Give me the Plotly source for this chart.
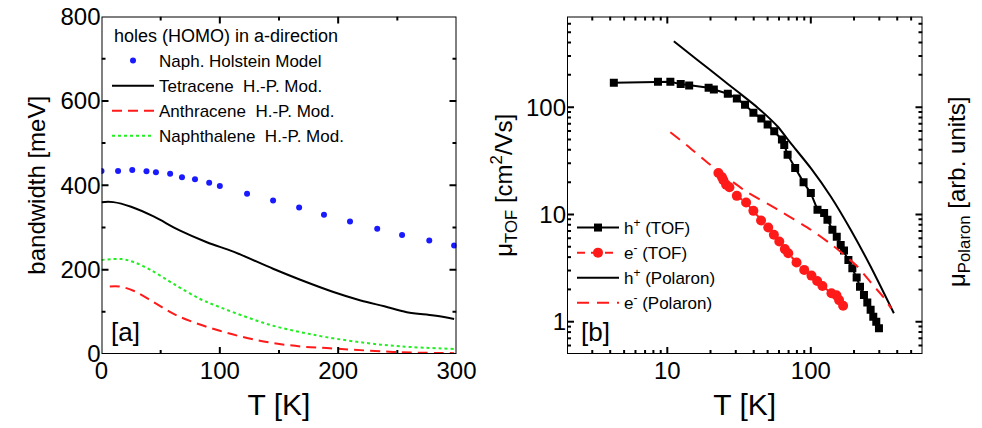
import math
import plotly.graph_objects as go

# ---- panel [a]: bandwidth vs temperature ----
T_holstein = [0, 14, 26, 38, 46, 58, 68, 79, 91, 100, 123, 145, 167, 188, 210, 233, 254, 277, 298]
bw_holstein = [434, 434, 436, 433, 431, 427, 419, 414, 406, 398, 380, 364, 347, 330, 314, 297, 282, 269, 257]

T_tetracene = [0, 10, 25, 44, 66, 89, 112, 145, 168, 196, 219, 239, 258, 281, 298]
bw_tetracene = [360, 360, 349, 326, 293, 265, 242, 202, 176, 147, 127, 113, 99, 91, 83]

T_anthracene = [7, 15, 27, 44, 61, 78, 100, 123, 145, 168, 190, 213, 239, 253, 298]
bw_anthracene = [160, 160, 150, 123, 95, 75, 55, 38, 26, 18, 14, 10, 6, 4, 2]

T_naphthalene = [0, 17, 27, 41, 61, 83, 100, 123, 145, 168, 190, 224, 253, 298]
bw_naphthalene = [223, 225, 218, 200, 166, 131, 111, 87, 67, 52, 40, 26, 18, 12]

# ---- panel [b]: mobility vs temperature ----
T_h_tof = [4.24, 8.61, 10.5, 12.4, 14.2, 19.4, 21.1, 26.4, 30.5, 34.8, 39.8, 45.2, 50.0, 55.6,
           62.9, 65.3, 68.9, 77.8, 89.0, 100, 111.3, 123.8, 130.6, 141.4, 151.6, 161.5, 170.3,
           182.7, 194.7, 208.6, 220.1, 234.6, 247.5, 261.1, 272.4, 285.8, 298.4]
mu_h_tof = [168.8, 172.5, 172.5, 164, 159.4, 151.6, 146, 133.2, 120.5, 105.1, 88.5, 78.4, 68.9, 59.7,
            49.9, 44.5, 36.1, 27.1, 19.9, 15.8, 11.06, 10.3, 8.9, 7.2, 6.2, 5.2, 4.6,
            3.77, 3.15, 2.58, 2.12, 1.77, 1.51, 1.29, 1.11, 1.0, 0.87]

T_e_tof = [22.7, 24.0, 24.6, 25.7, 27.1, 30.5, 35.4, 39.8, 45.0, 50.5, 55.3, 60.3, 65.9, 69.6,
           79.5, 89.9, 101, 110.7, 120.5, 139.2, 150.8, 157.3, 167.9]
mu_e_tof = [24.3, 22.3, 20.8, 18.9, 17.9, 14.9, 12.9, 10.8, 8.79, 7.56, 6.46, 5.6, 4.75, 4.35,
            3.56, 3.04, 2.69, 2.40, 2.15, 1.84, 1.76, 1.59, 1.41]

T_h_pol = [11.1, 16.3, 22.5, 31.0, 42.6, 58.7, 72.6, 100, 137.7, 189.6, 261, 379]
mu_h_pol = [412, 274, 195, 139, 99, 66, 46, 27, 14.7, 7.2, 3.27, 1.2]

T_e_pol = [10.5, 14.4, 19.2, 34.4, 58.7, 100, 135, 155, 211, 244, 275, 320, 363]
mu_e_pol = [58.4, 41.7, 30.2, 16.8, 11.1, 7.2, 5.4, 4.68, 3.27, 2.6, 2.15, 1.7, 1.33]

# axis limits, tick labels and minor tick positions
range_bw_x = [0, 300]
range_bw_y = [0, 800]
range_T_log = [2, 600]
range_mu_log = [0.5, 700]
tick_bw_x = [0, 100, 200, 300]
minor_bw_x = [50, 150, 250]
tick_bw_y = [0, 200, 400, 600, 800]
minor_bw_y = [100, 300, 500, 700]
tick_T_log = [10, 100]
minor_T_log = [3, 4, 5, 6, 7, 8, 9, 20, 30, 40, 50, 60, 70, 80, 90, 200, 300, 400, 500]
tick_mu_log = [1, 10, 100]
minor_mu_log = [0.6, 0.7, 0.8, 0.9, 2, 3, 4, 5, 6, 7, 8, 9,
                20, 30, 40, 50, 60, 70, 80, 90, 200, 300, 400, 500, 600]

FONT = "Arial, Liberation Sans, sans-serif"
W, H = 982, 428
M = 2  # small fixed page margin on every side


def px_x(p):
    return (p - M) / (W - 2 * M)


def px_y(p):
    return 1 - (p - M) / (H - 2 * M)


fig = go.Figure()

# panel [a]
fig.add_trace(go.Scatter(x=T_holstein, y=bw_holstein, mode="markers", name="Naph. Holstein Model",
                         marker=dict(color="#1a1aff", size=6), legend="legend", xaxis="x", yaxis="y"))
fig.add_trace(go.Scatter(x=T_tetracene, y=bw_tetracene, mode="lines", name="Tetracene  H.-P. Mod.",
                         line=dict(color="black", width=2, shape="spline"), legend="legend",
                         xaxis="x", yaxis="y"))
fig.add_trace(go.Scatter(x=T_anthracene, y=bw_anthracene, mode="lines", name="Anthracene  H.-P. Mod.",
                         line=dict(color="#ff1a1a", width=2, dash="10px,6px", shape="spline"),
                         legend="legend", xaxis="x", yaxis="y"))
fig.add_trace(go.Scatter(x=T_naphthalene, y=bw_naphthalene, mode="lines", name="Naphthalene  H.-P. Mod.",
                         line=dict(color="#22ee22", width=2, dash="3px,3px", shape="spline"),
                         legend="legend", xaxis="x", yaxis="y"))

# panel [b]
fig.add_trace(go.Scatter(x=T_h_tof, y=mu_h_tof, mode="lines+markers", name="h<sup>+</sup> (TOF)",
                         line=dict(color="black", width=2),
                         marker=dict(symbol="square", size=8, color="black"),
                         legend="legend2", xaxis="x2", yaxis="y2"))
fig.add_trace(go.Scatter(x=T_e_tof, y=mu_e_tof, mode="lines+markers", name="e<sup>-</sup> (TOF)",
                         line=dict(color="#ff1a1a", width=2, dash="8px,6px"),
                         marker=dict(symbol="circle", size=10, color="#ff1a1a"),
                         legend="legend2", xaxis="x2", yaxis="y2"))
fig.add_trace(go.Scatter(x=T_h_pol, y=mu_h_pol, mode="lines", name="h<sup>+</sup> (Polaron)",
                         line=dict(color="black", width=2, shape="spline", smoothing=0.6),
                         legend="legend2", xaxis="x2", yaxis="y2"))
fig.add_trace(go.Scatter(x=T_e_pol, y=mu_e_pol, mode="lines", name="e<sup>-</sup> (Polaron)",
                         line=dict(color="#ff1a1a", width=2, dash="12px,8px", shape="spline", smoothing=0.6),
                         legend="legend2", xaxis="x2", yaxis="y2"))

# ---- boxed frame with inward ticks on all four sides, drawn as line traces ----
PLOT_W = 355.0
PLOT_H = 337.5
MAJOR_LEN, MINOR_LEN = 7, 4


def step(lo, hi, log, length_px, span_px):
    """Value reached by moving length_px inward from lo (or hi) on a linear/log axis."""
    if log:
        f = 10 ** (length_px * (math.log10(hi) - math.log10(lo)) / span_px)
        return lo * f, hi / f
    d = length_px * (hi - lo) / span_px
    return lo + d, hi - d


def frame_traces(xa, ya, xr, yr, xlog, ylog, xt, xm, yt, ym):
    x0, x1 = xr
    y0, y1 = yr
    style = dict(mode="lines", line=dict(color="black", width=2), showlegend=False,
                 hoverinfo="skip", cliponaxis=False, xaxis=xa, yaxis=ya)
    xs, ys = [], []
    for vals, length in ((xt, MAJOR_LEN), (xm, MINOR_LEN)):
        lo_in, hi_in = step(y0, y1, ylog, length, PLOT_H)
        for v in vals:
            xs += [v, v, None, v, v, None]
            ys += [y0, lo_in, None, y1, hi_in, None]
    for vals, length in ((yt, MAJOR_LEN), (ym, MINOR_LEN)):
        lo_in, hi_in = step(x0, x1, xlog, length, PLOT_W)
        for v in vals:
            xs += [x0, lo_in, None, x1, hi_in, None]
            ys += [v, v, None, v, v, None]
    fig.add_trace(go.Scatter(x=xs, y=ys, **style))
    fig.add_trace(go.Scatter(x=[x0, x1, x1, x0, x0], y=[y0, y0, y1, y1, y0], **style))


frame_traces("x", "y", range_bw_x, range_bw_y, False, False,
             tick_bw_x[1:-1], minor_bw_x, tick_bw_y[1:-1], minor_bw_y)
frame_traces("x2", "y2", range_T_log, range_mu_log, True, True,
             tick_T_log, minor_T_log, tick_mu_log, minor_mu_log)

axis_style = dict(showline=False, ticks="", showgrid=False, zeroline=False, automargin=False,
                  tickfont=dict(family=FONT, size=24, color="black"))

legend_font = dict(size=17, family=FONT, color="black")


def label(text, x, y, size, **kw):
    return dict(text=text, x=px_x(x), y=px_y(y), xref="paper", yref="paper",
                xanchor=kw.pop("xanchor", "center"), yanchor="middle", showarrow=False,
                font=dict(size=size, family=FONT, color="black"), **kw)


fig.update_layout(
    width=W, height=H,
    margin=dict(l=M, r=M, t=M, b=M),
    paper_bgcolor="white", plot_bgcolor="white",
    font=dict(family=FONT, color="black"),
    xaxis=dict(axis_style, domain=[px_x(101.5), px_x(456.5)], range=range_bw_x,
               tickvals=tick_bw_x, anchor="y",
               title=dict(text="T [K]", font=dict(size=30), standoff=10)),
    yaxis=dict(axis_style, domain=[px_y(354), px_y(16.5)], range=range_bw_y,
               tickvals=tick_bw_y, anchor="x",
               title=dict(text="bandwidth [meV]", font=dict(size=24), standoff=8)),
    xaxis2=dict(axis_style, domain=[px_x(567), px_x(922.5)], type="log",
                range=[math.log10(v) for v in range_T_log],
                tickvals=tick_T_log, ticktext=[str(v) for v in tick_T_log], anchor="y2",
                title=dict(text="T [K]", font=dict(size=30), standoff=10)),
    yaxis2=dict(axis_style, domain=[px_y(354), px_y(16.5)], type="log",
                range=[math.log10(v) for v in range_mu_log],
                tickvals=tick_mu_log, ticktext=[str(v) for v in tick_mu_log], anchor="x2",
                title=dict(text="μ<sub>TOF</sub> [cm<sup>2</sup>/Vs]", font=dict(size=24), standoff=6)),
    showlegend=True,
    legend=dict(x=px_x(107), y=px_y(43), xanchor="left", yanchor="top",
                bgcolor="rgba(0,0,0,0)", font=legend_font, itemwidth=42, tracegroupgap=0),
    legend2=dict(x=px_x(572), y=px_y(210), xanchor="left", yanchor="top",
                 bgcolor="rgba(0,0,0,0)", font=legend_font, itemwidth=42, tracegroupgap=0),
    annotations=[
        label("holes (HOMO) in a-direction", 112, 36, 18, xanchor="left"),
        label("[a]", 125, 332, 26),
        label("[b]", 595, 332, 26),
        label("μ<sub>Polaron</sub> [arb. units]", 958, 192, 24, textangle=-90),
    ],
)

fig.write_html("out.html")
